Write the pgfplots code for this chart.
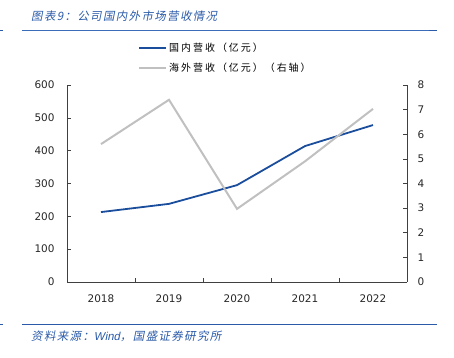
\documentclass[border=0pt]{standalone}
\usepackage{fontspec}
\usepackage{pgfplots}
\pgfplotsset{compat=1.18}
\setmainfont{DejaVu Sans}
\newfontfamily\cjk[LetterSpace=20]{Noto Sans CJK SC}
\newfontfamily\cjkit[FakeSlant=0.2,LetterSpace=12]{Noto Sans CJK SC}
\newfontfamily\latit[FakeSlant=0.2]{Liberation Sans}
\definecolor{dblue}{HTML}{1A4D9C}
\definecolor{lgray}{HTML}{C0C0C0}
\definecolor{tblue}{HTML}{2A5AA8}
\definecolor{rblue}{HTML}{3A6DB8}
\begin{document}
\begin{tikzpicture}
\useasboundingbox (0,0) rectangle (454bp,358bp);
\begin{axis}[
  scale only axis, width=340bp, height=197bp,
  at={(67bp,76bp)}, anchor=south west,
  xmin=-0.5, xmax=4.5, ymin=0, ymax=600,
  xtick={0,1,2,3,4}, xticklabels={2018,2019,2020,2021,2022},
  minor xtick={0.5,1.5,2.5,3.5},
  ytick={0,100,...,600},
  axis y line*=left, axis x line*=bottom,
  axis line style={black!75, line width=0.6bp, -},
  tick style={black!75, line width=0.6bp},
  major tick length=4bp, minor tick length=4bp,
  x tick style={draw=none},
  minor x tick style={draw=black!75, line width=0.6bp},
  tick label style={font=\fontsize{10.5}{12}\selectfont, text=black!85},
  xticklabel style={yshift=-9bp},
  yticklabel style={xshift=-9bp},
  /pgf/number format/assume math mode=true,
  clip=false,
]
\addplot[dblue, line width=1.8bp] coordinates {(0,213) (1,238) (2,295) (3,414) (4,478)};
\end{axis}
\begin{axis}[
  scale only axis, width=340bp, height=197bp,
  at={(67bp,76bp)}, anchor=south west,
  xmin=-0.5, xmax=4.5, ymin=0, ymax=8,
  axis y line*=right, axis x line=none,
  ytick={0,1,...,8},
  axis line style={black!75, line width=0.6bp, -},
  tick style={black!75, line width=0.6bp},
  major tick length=4bp,
  tick label style={font=\fontsize{10.5}{12}\selectfont, text=black!85},
  yticklabel style={xshift=7bp},
  /pgf/number format/assume math mode=true,
  legend style={draw=none, fill=none, at={(71bp,241bp)}, anchor=north west, font=\cjk\fontsize{10}{11}\selectfont, row sep=6bp, inner sep=0pt},
  legend cell align=left,
  legend image code/.code={\draw[#1] (0bp,0bp) -- (27bp,0bp);},
]
\addlegendimage{dblue, line width=1.8bp}
\addlegendentry{国内营收（亿元）}
\addplot[lgray, line width=2bp] coordinates {(0,5.6) (1,7.4) (2,2.97) (3,4.9) (4,7.03)};
\addlegendentry{海外营收（亿元）（右轴）}
\end{axis}
% title and rules
\node[anchor=west,text=tblue,font=\cjkit\fontsize{11.5}{12}\selectfont,inner sep=0] at (31bp,342bp) {图表9：公司国内外市场营收情况};
\fill[rblue] (22bp,327bp) rectangle (430bp,328.3bp);
\fill[tblue] (429bp,326.5bp) rectangle (437bp,328.3bp);
\fill[tblue] (0bp,327bp) rectangle (3bp,328.3bp);
\fill[tblue] (22bp,32.5bp) rectangle (437bp,34bp);
\fill[tblue] (0bp,32.5bp) rectangle (3bp,34bp);
\node[anchor=west,text=tblue,font=\cjkit\fontsize{11.5}{12}\selectfont,inner sep=0] at (31bp,22bp) {资料来源：{\latit Wind}，国盛证券研究所};
\end{tikzpicture}
\end{document}
